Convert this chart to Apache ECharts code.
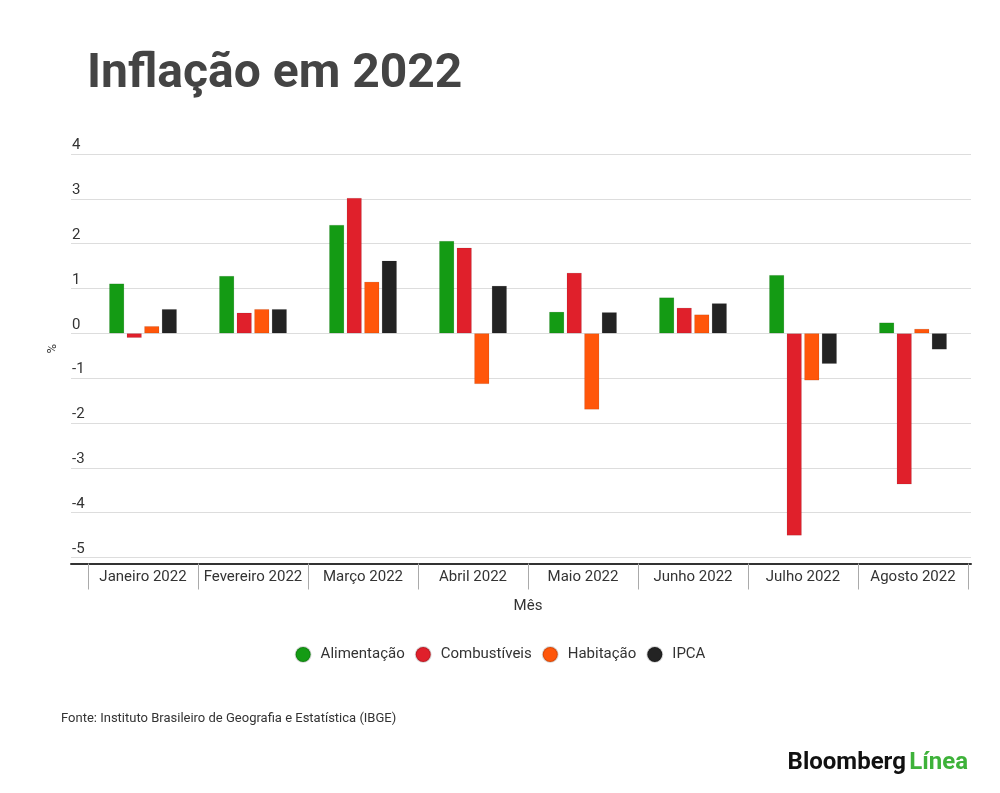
<!DOCTYPE html>
<html>
<head>
<meta charset="utf-8">
<script src="https://cdn.jsdelivr.net/npm/echarts@6/dist/echarts.min.js"></script>
<style>
  html, body { margin: 0; padding: 0; background: #fff; }
  #chart { width: 1000px; height: 793px; }
</style>
</head>
<body>
<div id="chart"></div>
<script>
// dados (%)
var meses = ['Janeiro 2022', 'Fevereiro 2022', 'Março 2022', 'Abril 2022', 'Maio 2022', 'Junho 2022', 'Julho 2022', 'Agosto 2022'];
var alimentacao = [1.11, 1.28, 2.42, 2.06, 0.48, 0.80, 1.30, 0.24];
var combustiveis = [-0.10, 0.46, 3.02, 1.91, 1.35, 0.57, -4.51, -3.37];
var habitacao = [0.16, 0.54, 1.15, -1.13, -1.70, 0.42, -1.05, 0.10];
var ipca = [0.54, 0.54, 1.62, 1.06, 0.47, 0.67, -0.68, -0.36];

var cores = ['#149b14', '#e0202b', '#ff560a', '#232323'];
var fonte = 'Roboto, "Noto Sans", sans-serif';

var myChart = echarts.init(document.getElementById('chart'));

function serie(nome, dados, cor) {
    return {
        name: nome,
        type: 'bar',
        xAxisIndex: 1,
        yAxisIndex: 1,
        barWidth: 15,
        barGap: '17%',
        data: dados,
        itemStyle: { color: cor, borderColor: 'rgba(0,0,0,0.15)', borderWidth: 0.6 }
    };
}

var option = {
    backgroundColor: '#fff',
    textStyle: { fontFamily: fonte },
    title: {
        text: 'Inflação em 2022',
        left: 82,
        top: 46,
        textStyle: { fontSize: 48, fontWeight: 'bold', color: '#444', fontFamily: fonte }
    },
    legend: {
        top: 641,
        left: 'center',
        icon: 'circle',
        itemWidth: 15,
        itemHeight: 15,
        itemGap: 10,
        textStyle: { fontSize: 15, color: '#333', padding: [0, 0, 0, 5] },
        data: ['Alimentação', 'Combustíveis', 'Habitação', 'IPCA']
    },
    grid: [
        { left: 71, right: 29, top: 154, height: 403.5 },
        { left: 88, right: 32, top: 154, height: 403.5 }
    ],
    xAxis: [
        {
            type: 'category',
            gridIndex: 0,
            data: meses,
            offset: 6,
            axisLine: { onZero: false, lineStyle: { color: '#333', width: 2 } },
            axisTick: { show: false },
            axisLabel: { show: false }
        },
        {
            type: 'category',
            gridIndex: 1,
            data: meses,
            offset: 6,
            axisLine: { show: false, onZero: false },
            axisTick: { show: true, interval: 0, length: 26, lineStyle: { color: '#aaa' } },
            axisLabel: { interval: 0, fontSize: 15, color: '#333', margin: 6 },
            name: 'Mês',
            nameLocation: 'middle',
            nameGap: 35,
            nameTextStyle: { fontSize: 15, color: '#333' }
        }
    ],
    yAxis: [
        {
            type: 'value',
            gridIndex: 0,
            min: -5,
            max: 4,
            interval: 1,
            name: '%',
            nameLocation: 'middle',
            nameRotate: 90,
            nameGap: 12,
            nameTextStyle: { fontSize: 13, color: '#333', padding: [0, 0, 0, 14] },
            axisLine: { show: false },
            axisTick: { show: false },
            axisLabel: {
                fontSize: 15,
                color: '#333',
                align: 'left',
                verticalAlign: 'bottom',
                margin: -1,
                padding: [0, 0, 1, 0]
            },
            splitLine: { lineStyle: { color: '#ddd', width: 1 } }
        },
        {
            type: 'value',
            gridIndex: 1,
            min: -5,
            max: 4,
            interval: 1,
            show: false,
            splitLine: { show: false }
        }
    ],
    series: [
        serie('Alimentação', alimentacao, cores[0]),
        serie('Combustíveis', combustiveis, cores[1]),
        serie('Habitação', habitacao, cores[2]),
        serie('IPCA', ipca, cores[3])
    ],
    graphic: [
        {
            type: 'text',
            left: 61,
            top: 712,
            style: {
                text: 'Fonte: Instituto Brasileiro de Geografia e Estatística (IBGE)',
                fontSize: 13,
                fill: '#333',
                fontFamily: fonte
            }
        },
        {
            type: 'text',
            right: 32,
            top: 751,
            style: {
                text: '{a|Bloomberg} {b|Línea}',
                rich: {
                    a: { fontSize: 24, fontWeight: 'bold', fill: '#111', fontFamily: fonte },
                    b: { fontSize: 24, fontWeight: 'bold', fill: '#3eb23a', fontFamily: fonte }
                }
            }
        }
    ]
};

myChart.setOption(option);
window.addEventListener('resize', function () {
    myChart.resize();
});
</script>
</body>
</html>
